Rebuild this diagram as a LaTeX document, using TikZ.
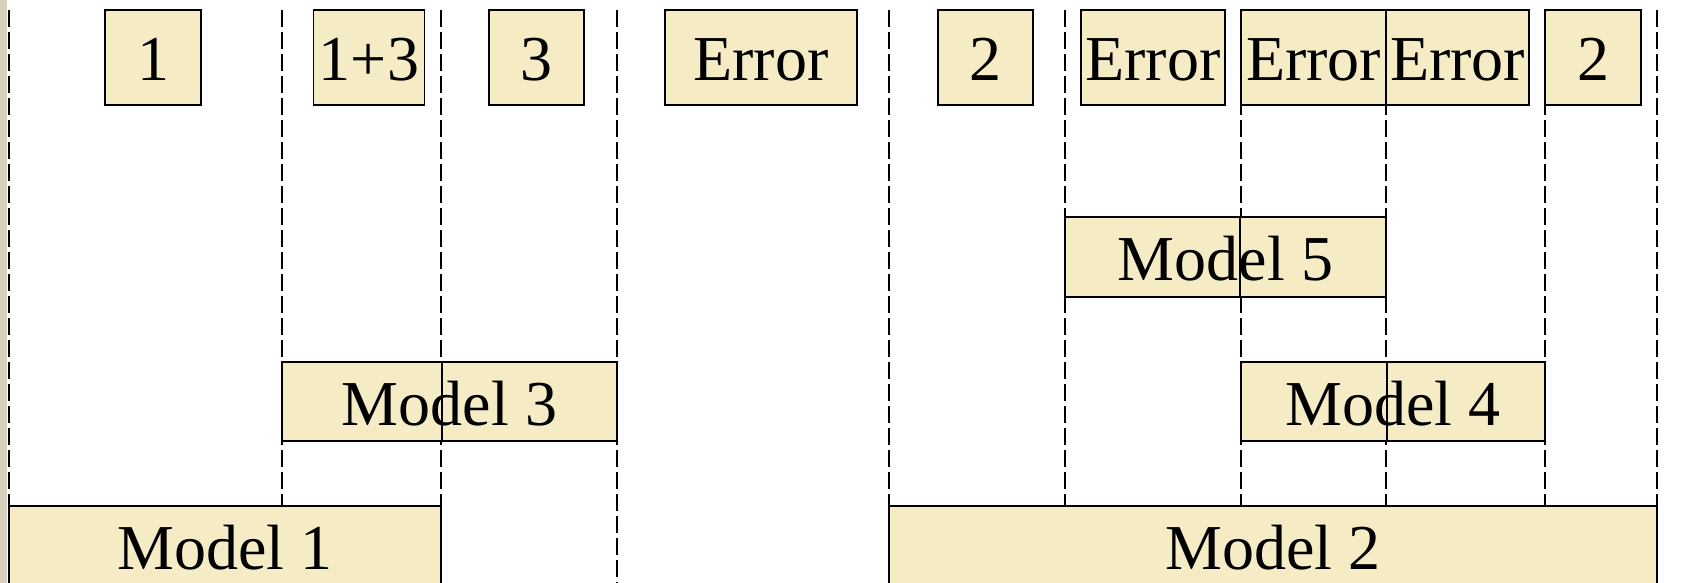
\documentclass[tikz,border=0pt]{standalone}
\usepackage{fontspec}
\setmainfont{Liberation Serif}
\usepackage{xcolor}
\usepackage{tikz}
\usetikzlibrary{positioning}

\definecolor{boxfill}{RGB}{245,235,196}
\definecolor{edgestrip}{RGB}{214,208,188}

\begin{document}
\begin{tikzpicture}[x=1pt, y=-1pt,
                box/.style={draw, rectangle, line width=1.6pt, fill=boxfill, inner sep=0pt, align=center, text height=47pt, text depth=0pt, font=\fontsize{64}{70}\selectfont},
                slot/.style={box, minimum height=95pt},
                model/.style={box, minimum height=79pt},
                guide/.style={line width=1.5pt, dash pattern=on 17pt off 5pt},
                divider/.style={line width=1.5pt}]
                \useasboundingbox (0,0) rectangle (1694,583);
                \clip (0,0) rectangle (1694,583);
                \fill[edgestrip] (0,0) rectangle (7,583);

                % time slots
                \draw[guide] (9,10) -- (9,506);
                \draw[guide] (282,10) -- (282,506);
                \draw[guide] (441,10) -- (441,506);
                \draw[guide] (617,10) -- (617,583);
                \draw[guide] (889,10) -- (889,506);
                \draw[guide] (1065,10) -- (1065,506);
                \draw[guide] (1241,10) -- (1241,506);
                \draw[guide] (1386,10) -- (1386,506);
                \draw[guide] (1545,10) -- (1545,506);
                \draw[guide] (1657,10) -- (1657,506);

                % results per slot
                \node[slot, minimum width=96pt] (r1) at (153,57.5) {1};
                \node[slot, minimum width=111pt] (r2) at (369,57.5) {1+3};
                \node[slot, minimum width=95pt] (r3) at (536.5,57.5) {3};
                \node[slot, minimum width=192pt] (r4) at (761,57.5) {Error};
                \node[slot, minimum width=95pt] (r5) at (985.5,57.5) {2};
                \node[slot, minimum width=144pt] (r6) at (1153,57.5) {Error};
                \node[slot, minimum width=145pt] (r7) at (1313.5,57.5) {Error};
                \node[slot, minimum width=143pt] (r8) at (1457.5,57.5) {Error};
                \node[slot, minimum width=96pt] (r9) at (1593,57.5) {2};

                % models
                \node[model, minimum width=321pt, minimum height=80pt] (m5) at (1225.5,257) {Model 5};
                \node[model, minimum width=335pt] (m3) at (449.5,401.5) {Model 3};
                \node[model, minimum width=304pt] (m4) at (1393,401.5) {Model 4};
                \node[model, minimum width=432pt] (m1) at (225,545.5) {Model 1};
                \node[model, minimum width=768pt] (m2) at (1273,545.5) {Model 2};

                \draw[divider] (m3.north -| m1.east) -- (m3.south -| m1.east);
                \draw[divider] (m5.north -| m4.west) -- (m5.south -| m4.west);
                \draw[divider] (m4.north -| m5.east) -- (m4.south -| m5.east);
            \end{tikzpicture}
\end{document}
